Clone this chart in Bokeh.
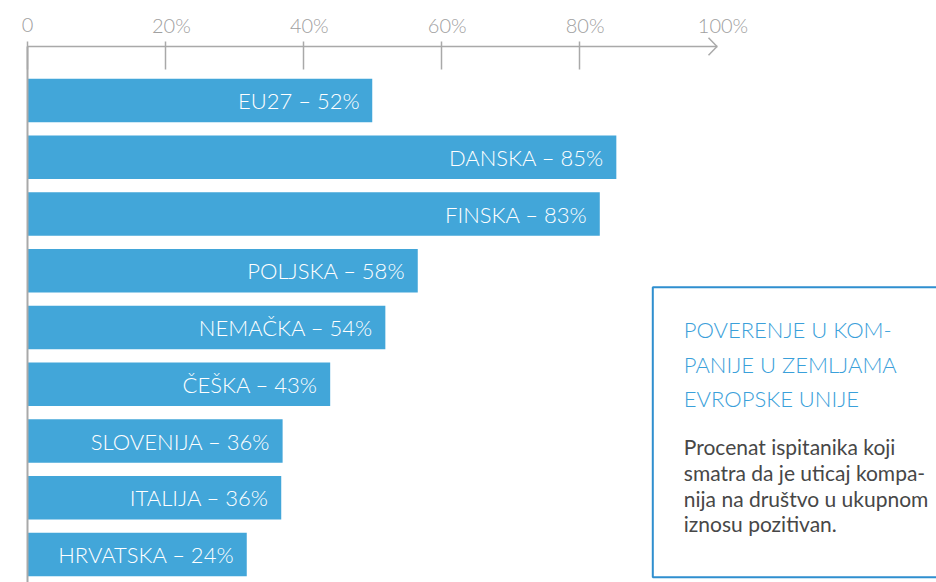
from bokeh.plotting import figure
from bokeh.models import Range1d, FixedTicker, Arrow, BoxAnnotation, ColumnDataSource
from bokeh.core.properties import value
from bokeh.embed import file_html
from bokeh.resources import INLINE

# ---------------- data ----------------
countries = ["EU27", "DANSKA", "FINSKA", "POLJSKA", "NEMAČKA", "ČEŠKA", "SLOVENIJA", "ITALIJA", "HRVATSKA"]
shares = [52, 85, 83, 58, 54, 43, 36, 36, 24]                          # value printed on each bar (%)
bar_extent = [50.0, 85.4, 83.0, 56.6, 51.9, 43.9, 37.0, 36.8, 31.8]   # bar length as drawn in the picture (%)
tick_values = [0, 20, 40, 60, 80, 100]
tick_labels = ["0", "20%", "40%", "60%", "80%", "100%"]
title_lines = ["POVERENJE U KOM-", "PANIJE U ZEMLJAMA", "EVROPSKE UNIJE"]
body_lines = ["Procenat ispitanika koji", "smatra da je uticaj kompa-",
              "nija na društvo u ukupnom", "iznosu pozitivan."]

# ---------------- styling / geometry (pixels) ----------------
W, H = 936, 582
FRAME_TOP = 8
X0_PX, PX_PER_PCT = 27.0, 6.895      # where 0 % sits, pixels per percent
ROW0_PX, ROW_PX = 100.0, 56.75       # centre of first bar, distance between bars
AXIS_Y = 46.0
BAR_COLOR = "#42a6d9"
AXIS_COLOR = "#a9a9a9"
TICK_TEXT = "#a0a0a0"
TITLE_COLOR = "#3aa0da"
BOX_COLOR = "#2f8fcf"
BODY_COLOR = "#474747"
LIGHT = value("Lato Light, Lato")
REG = value("Lato")


def dx(px):  # page x pixel -> data x
    return (px - X0_PX) / PX_PER_PCT


def dy(px):  # page y pixel -> data y (bar index axis, downwards)
    return (px - ROW0_PX) / ROW_PX


p = figure(width=W, height=H, x_range=Range1d(dx(0), dx(W)), y_range=Range1d(dy(H), dy(FRAME_TOP)),
           output_backend="svg", toolbar_location=None, x_axis_location="above",
           y_axis_location=None, min_border_left=0, min_border_right=0,
           min_border_top=FRAME_TOP, min_border_bottom=0)
p.outline_line_color = None
p.grid.visible = False
p.background_fill_color = "white"
p.border_fill_color = "white"

ax = p.xaxis[0]
ax.ticker = FixedTicker(ticks=[], minor_ticks=tick_values[:-1])
ax.fixed_location = dy(AXIS_Y)
ax.bounds = (0, 100)
ax.axis_line_color = AXIS_COLOR
ax.axis_line_width = 1.5
ax.major_tick_line_color = None
ax.major_tick_in = 0
ax.major_tick_out = 0
ax.major_label_standoff = 0
ax.minor_tick_line_color = AXIS_COLOR
ax.minor_tick_line_width = 1.5
ax.minor_tick_in = 23
ax.minor_tick_out = 5

# tick labels placed with the x scale
tsrc = ColumnDataSource(dict(x=tick_values, y=[dy(24.0)] * len(tick_values), text=tick_labels,
                             dx=[0 if t == "0" else 6 for t in tick_labels]))
p.text(x="x", y="y", text="text", source=tsrc, x_offset="dx",
       text_align="center", text_baseline="middle", text_color=TICK_TEXT,
       text_font=LIGHT, text_font_size="20px")

# left vertical line
p.add_layout(Arrow(end=None, x_start=0, y_start=dy(AXIS_Y), x_end=0, y_end=dy(H),
                   line_color=AXIS_COLOR, line_width=2))

# open arrow head at the end of the axis
for sgn in (-1, 1):
    p.add_layout(Arrow(end=None, x_start=dx(X0_PX + 100 * PX_PER_PCT - 8.5), y_start=dy(AXIS_Y + sgn * 8.7),
                       x_end=100, y_end=dy(AXIS_Y), line_color=AXIS_COLOR, line_width=1.5))

src = ColumnDataSource(dict(
    idx=list(range(len(countries))),
    extent=bar_extent,
    label=[f"{c} – {s}%" for c, s in zip(countries, shares)],
))
p.hbar(y="idx", left=0, right="extent", height=43.5 / ROW_PX, source=src,
       fill_color=BAR_COLOR, line_color=None)
p.text(x="extent", y="idx", text="label", source=src, x_offset=-12.5,
       text_align="right", text_baseline="middle", text_color="white",
       text_font=LIGHT, text_font_size="22px")

# caption box
p.add_layout(BoxAnnotation(left=dx(652.3), right=dx(W + 20), top=dy(286.7), bottom=dy(576.7),
                           fill_color=None, line_color=BOX_COLOR, line_alpha=1.0, line_width=2))

p.text(x=[dx(683.3)] * len(title_lines), y=[dy(v) for v in (329.0, 364.0, 398.0)], text=title_lines,
       text_align="left", text_baseline="middle", text_color=TITLE_COLOR,
       text_font=LIGHT, text_font_size="22px")

p.text(x=[dx(683.3)] * len(body_lines), y=[dy(v) for v in (445.5, 471.5, 497.5, 523.0)], text=body_lines,
       text_align="left", text_baseline="middle", text_color=BODY_COLOR,
       text_font=REG, text_font_size="21px")

open("out.html", "w").write(file_html(p, INLINE))
